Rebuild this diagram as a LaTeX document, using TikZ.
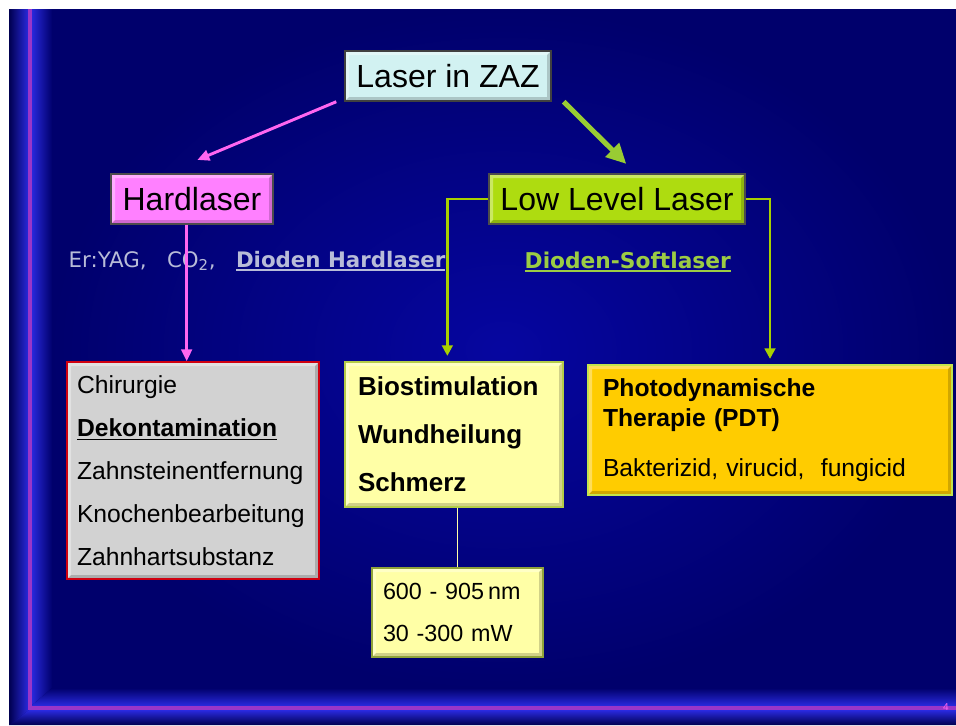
\documentclass[tikz,border=0pt]{standalone}
\usepackage{fontspec}
\setmainfont{Liberation Sans}
\newfontfamily\verdfont{DejaVu Sans}
\usetikzlibrary{arrows.meta, calc}
\definecolor{cnavy}{HTML}{00006C}
\definecolor{cnavyin}{HTML}{0606A0}
\definecolor{cnavyout}{HTML}{000050}
\definecolor{cband}{HTML}{2A2AE0}
\definecolor{cviolet}{HTML}{9A36C8}
\definecolor{ccyan}{HTML}{D2F2F2}
\definecolor{cpink}{HTML}{FF80FF}
\definecolor{cpinkline}{HTML}{FF66F0}
\definecolor{clime}{HTML}{AEDC10}
\definecolor{climeline}{HTML}{A8D000}
\definecolor{carrow}{HTML}{99CC33}
\definecolor{cgreyfill}{HTML}{D2D2D2}
\definecolor{cred}{HTML}{D00010}
\definecolor{cpale}{HTML}{FFFFA6}
\definecolor{cpaleedge}{HTML}{B4CC48}
\definecolor{camber}{HTML}{FFCC00}
\definecolor{camberedge}{HTML}{C4E44C}
\definecolor{clavender}{HTML}{B8BCD8}
\definecolor{csoft}{HTML}{9CCC44}
\newcommand{\ulined}[1]{\sbox0{#1}\rlap{\rule[-3pt]{\wd0}{1.2pt}}\usebox0}
\tikzset{
  every picture/.style={x=0.75pt, y=-0.75pt},
  bevel/.style={path picture={
    \path (path picture bounding box.north west) coordinate (bnw)
          (path picture bounding box.north east) coordinate (bne)
          (path picture bounding box.south west) coordinate (bsw)
          (path picture bounding box.south east) coordinate (bse);
    \fill[white, opacity=0.35] (bsw) -- (bnw) -- (bne) -- ([shift={(-3pt,-3pt)}]bne)
      -- ([shift={(3pt,-3pt)}]bnw) -- ([shift={(3pt,3pt)}]bsw) -- cycle;
    \fill[black, opacity=0.18] (bsw) -- (bse) -- (bne) -- ([shift={(-3pt,-3pt)}]bne)
      -- ([shift={(-3pt,3pt)}]bse) -- ([shift={(3pt,3pt)}]bsw) -- cycle;
  }},
  box/.style 2 args={draw=#2, fill=#1, line width=1.1pt, bevel, inner ysep=0pt, text=black},
  headline/.style={font=\fontsize{24}{28}\selectfont, minimum height=37.5pt},
  listbox/.style={align=left, font=\fontsize{18.5}{32.25}\selectfont},
  pinkarrow/.style={-{Triangle[length=9pt, width=8pt]}, draw=cpinkline, line width=2.2pt},
  greenarrow/.style={-{Triangle[length=15pt, width=14pt]}, draw=carrow, line width=3.75pt},
  limearrow/.style={-{Triangle[length=8pt, width=8pt]}, draw=climeline, line width=2.2pt, line join=miter},
  paleline/.style={draw=cpale, line width=1pt},
}
\begin{document}
\begin{tikzpicture}
  \useasboundingbox (0,0) rectangle (956,725);
  % slide background and frame
  \fill[white] (0,0) rectangle (956,725);
  \fill[cnavy] (9,9) rectangle (956,725);
  \shade[inner color=cnavyin, outer color=cnavy] (50,9) rectangle (956,690);
  \shade[left color=cnavyout, right color=cband] (9,9) -- (29,9) -- (29,710) -- (9,725) -- cycle;
  \shade[left color=cband, right color=cnavy] (31,9) -- (52,9) -- (52,688) -- (31,706) -- cycle;
  \shade[top color=cnavy, bottom color=cband] (31,706) -- (52,688) -- (956,688) -- (956,706) -- cycle;
  \shade[top color=cband, bottom color=cnavyout] (9,725) -- (29,710) -- (956,710) -- (956,725) -- cycle;
  \draw[cviolet, line width=2.5pt] (30,9) -- (30,708) -- (956,708);
  \node[font=\fontsize{7.5}{8}\selectfont, text=cpinkline] (pageno) at (946,707) {4};
  % headline boxes
  \node[box={ccyan}{black!75}, headline, minimum width=154.5pt] (zaz) at (448,76) {Laser in ZAZ};
  \node[box={cpink}{black!70}, headline, minimum width=121.5pt] (hard) at (192,199) {Hardlaser};
  \node[box={clime}{black!70}, headline, minimum width=192pt] (low) at (617,199) {Low Level Laser};
  % laser types
  \node[anchor=base west, text=clavender, font=\verdfont\fontsize{16}{18}\selectfont] (hardinfo) at (64,267)
    {Er:YAG,\ \ \ CO\textsubscript{2},\ \ \ \textbf{\ulined{Dioden Hardlaser}}};
  \node[anchor=base west, text=csoft, font=\verdfont\bfseries\fontsize{16.3}{18}\selectfont] (soft) at (520,268)
    {\ulined{Dioden-Softlaser}};
  % application boxes
  \node[box={cgreyfill}{cred}, listbox, minimum width=189pt, minimum height=162.75pt,
        text width=174pt, inner xsep=7.5pt] (chir) at (193,470.5)
    {Chirurgie\\ \textbf{\ulined{Dekontamination}}\\ Zahnsteinentfernung\\ Knochenbearbeitung\\ Zahnhartsubstanz};
  \node[box={cpale}{cpaleedge}, listbox, font=\bfseries\fontsize{19.5}{36}\selectfont, minimum width=163.5pt,
        minimum height=108.75pt, text width=144pt, inner xsep=9.75pt] (bio) at (454,434.5)
    {Biostimulation\\ Wundheilung\\ Schmerz};
  \node[box={cpale}{cpaleedge!80!black}, listbox, font=\fontsize{17.5}{31.5}\selectfont, minimum width=128.25pt,
        minimum height=66.75pt, text width=111.75pt, inner xsep=8.25pt] (range) at (457.5,612.5)
    {\mbox{600 -\ 905\,nm}\\ \mbox{30 -300 mW}};
  \node[box={camber}{camberedge}, listbox, font=\fontsize{18.5}{22.5}\selectfont, minimum width=273pt,
        minimum height=97.5pt, text width=250.5pt, inner xsep=11.25pt] (pdt) at (770,430)
    {\textbf{Photodynamische}\\ \textbf{Therapie (PDT)}\\[15pt] Bakterizid, virucid,\ \ fungicid};
  % connectors
  \draw[pinkarrow] ([xshift=-6pt]zaz.south west) -- ([xshift=4pt, yshift=10pt]hard.north);
  \draw[greenarrow] ([xshift=9pt]zaz.south east) -- ([xshift=7pt, yshift=7pt]low.north);
  \draw[pinkarrow] ([xshift=-4pt]hard.south) -- ([xshift=-4pt]hard.south |- chir.north);
  \draw[limearrow] (low.west) -| ([xshift=-5pt, yshift=4pt]bio.north);
  \draw[limearrow] (low.east) -| ([yshift=4pt]pdt.north);
  \draw[paleline] (range.north |- bio.south) -- (range.north);
\end{tikzpicture}
\end{document}
